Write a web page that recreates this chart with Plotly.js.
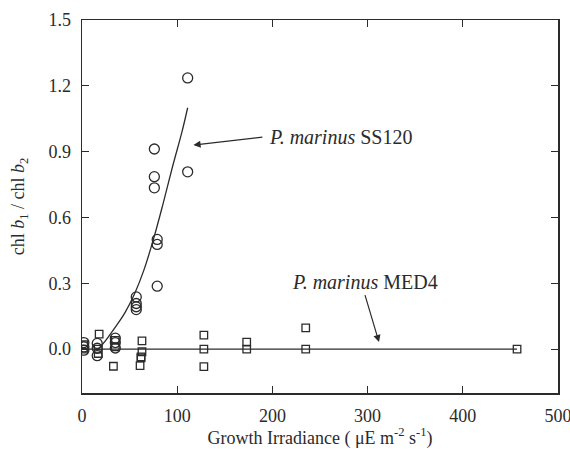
<!DOCTYPE html>
<html>
<head>
<meta charset="utf-8">
<script src="https://cdn.plot.ly/plotly-3.0.1.min.js"></script>
<style>html,body{margin:0;padding:0;background:#fff;}#chart{width:570px;height:449px;}</style>
</head>
<body>
<div id="chart"></div>
<script>
// SS120 (circles)
var ss120X = [2, 2, 2, 16, 16, 16, 35, 35, 35, 57, 57, 57, 57, 79, 79, 79, 76, 76, 76, 111, 111];
var ss120Y = [0.03, 0.01, -0.005, 0.026, 0.004, -0.03, 0.05, 0.03, 0.005, 0.238, 0.208, 0.193, 0.18, 0.50, 0.477, 0.287, 0.912, 0.786, 0.735, 1.236, 0.808];
// SS120 fitted curve
var ss120FitX = [17, 25, 35, 45, 55, 65, 75, 85, 95, 105, 111];
var ss120FitY = [0.0, 0.04, 0.10, 0.165, 0.25, 0.36, 0.50, 0.66, 0.83, 0.99, 1.10];
// MED4 (squares)
var med4X = [2, 2, 18, 17, 17, 35, 35, 33, 63, 63, 62, 62, 61, 128, 128, 128, 173, 173, 235, 235, 457];
var med4Y = [0.02, 0.0, 0.068, 0.0, -0.02, 0.04, 0.01, -0.078, 0.038, -0.012, -0.035, -0.04, -0.075, 0.064, 0.0, -0.08, 0.032, 0.0, 0.097, 0.0, 0.0];
// MED4 fitted line
var med4FitX = [0, 457];
var med4FitY = [0, 0];

var xTicks = [0, 100, 200, 300, 400, 500];
var yTicks = [0.0, 0.3, 0.6, 0.9, 1.2, 1.5];
var yTickText = ['0.0', '0.3', '0.6', '0.9', '1.2', '1.5'];

var ink = '#2b2b2b';
var serif = 'Liberation Serif';

var traces = [
  {x: ss120FitX, y: ss120FitY, mode: 'lines', line: {color: ink, width: 1.3, shape: 'spline'}, hoverinfo: 'skip'},
  {x: med4FitX, y: med4FitY, mode: 'lines', line: {color: ink, width: 1.3}, hoverinfo: 'skip'},
  {x: ss120X, y: ss120Y, mode: 'markers', marker: {symbol: 'circle-open', size: 10, color: ink, line: {width: 1.3, color: ink}}},
  {x: med4X, y: med4Y, mode: 'markers', marker: {symbol: 'square-open', size: 7.5, color: ink, line: {width: 1.3, color: ink}}}
];

var axisCommon = {
  showgrid: false, zeroline: false, showline: true, linecolor: ink, linewidth: 1.5,
  mirror: 'ticks', ticks: 'inside', ticklen: 7, tickwidth: 1.2, tickcolor: ink,
  ticklabeloverflow: 'allow', ticklabelstandoff: 6,
  tickfont: {family: serif, size: 18, color: ink}
};

var layout = {
  width: 570, height: 449,
  margin: {l: 82, r: 12, t: 20, b: 56},
  paper_bgcolor: '#fff', plot_bgcolor: '#fff',
  showlegend: false,
  font: {family: serif, color: ink},
  xaxis: Object.assign({}, axisCommon, {
    range: [0, 500], tickvals: xTicks,
    title: {text: 'Growth Irradiance ( \u03bcE m<sup>-2</sup> s<sup>-1</sup>)', font: {family: serif, size: 18, color: ink}, standoff: 5}
  }),
  yaxis: Object.assign({}, axisCommon, {
    range: [-0.2, 1.5], tickvals: yTicks, ticktext: yTickText,
    title: {text: 'chl <i>b</i><sub>1</sub> / chl <i>b</i><sub>2</sub>', font: {family: serif, size: 18, color: ink}, standoff: 19}
  }),
  annotations: [
    {x: 117, y: 0.93, xref: 'x', yref: 'y', ax: 69, ay: -8, axref: 'pixel', ayref: 'pixel',
     text: '<i>P. marinus</i> SS120', showarrow: true, arrowhead: 2, arrowsize: 1.2, arrowwidth: 1.2, arrowcolor: ink,
     xanchor: 'left', yanchor: 'middle', borderpad: 6, font: {family: serif, size: 20, color: ink}},
    {x: 312, y: 0.032, xref: 'x', yref: 'y', ax: -14, ay: -47, axref: 'pixel', ayref: 'pixel',
     text: '<i>P. marinus</i> MED4', showarrow: true, arrowhead: 2, arrowsize: 1.2, arrowwidth: 1.2, arrowcolor: ink,
     xanchor: 'center', yanchor: 'bottom', borderpad: 1, font: {family: serif, size: 20, color: ink}}
  ]
};

Plotly.newPlot('chart', traces, layout, {staticPlot: true, displayModeBar: false});
</script>
</body>
</html>
